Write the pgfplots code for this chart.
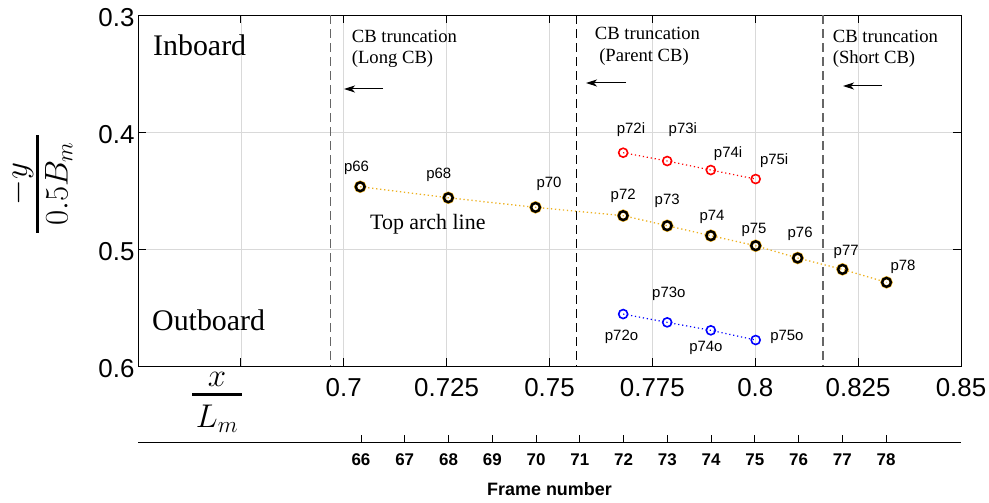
\documentclass[border=0pt]{standalone}
\usepackage{fix-cm}
\usepackage[no-math]{fontspec}
\setmainfont{Liberation Serif}
\newfontfamily\arial{Liberation Sans}
\usepackage{pgfplots}
\usepackage{pgfplotstable}
\pgfplotsset{compat=1.18}
\usetikzlibrary{arrows.meta}
\definecolor{morange}{rgb}{0.929,0.694,0.125}
\definecolor{dgray}{gray}{0.4}

\pgfplotstableread{
x y
0.7040 0.4468
0.7254 0.4562
0.7466 0.4644
0.7679 0.4715
0.7786 0.4801
0.7892 0.4886
0.8001 0.4972
0.8103 0.5077
0.8212 0.5174
0.8319 0.5285
}\toparch
\pgfplotstableread{
x y
0.7679 0.4177
0.7786 0.4248
0.7892 0.4325
0.8001 0.4402
}\inboard
\pgfplotstableread{
x y
0.7679 0.5556
0.7786 0.5627
0.7892 0.5695
0.8001 0.5778
}\outboard

\tikzset{lbl/.style={font=\arial\fontsize{15}{15}\selectfont, inner sep=0pt}}

% hand-built fraction with a thick bar: #1 num, #2 den, #3 kern above bar, #4 kern below bar, #5 side padding
\newcommand{\myfrac}[5]{\vbox{\offinterlineskip\halign{\hfil\kern#5##\kern#5\hfil\cr $\displaystyle #1$\cr\noalign{\kern #3\hrule height 3.3bp\kern #4}$\displaystyle #2$\cr}}}

\begin{document}
\begin{tikzpicture}
\useasboundingbox (-138bp,-137bp) rectangle (851bp,366bp);
\begin{axis}[
  at={(0,0)}, anchor=south west,
  scale only axis, width=823bp, height=351bp,
  xmin=0.65, xmax=0.85, ymin=0.3, ymax=0.6,
  y dir=reverse,
  xtick={0.65,0.675,0.7,0.725,0.75,0.775,0.8,0.825,0.85},
  xticklabels={,,0.7,0.725,0.75,0.775,0.8,0.825,0.85},
  ytick={0.3,0.4,0.5,0.6},
  yticklabels={0.3,0.4,0.5,0.6},
  grid=major, major grid style={gray!30, line width=0.6bp},
  tick align=inside, major tick length=8bp, tick style={black, line width=0.8bp},
  axis line style={line width=0.9bp},
  ticklabel style={font=\arial\fontsize{26}{26}\selectfont},
  /pgf/number format/assume math mode=true,
  xticklabel style={yshift=-9bp},
  yticklabel style={yshift=-3bp},
  clip=false,
]
% truncation lines
\addplot[dgray, line width=1.1bp, dash pattern=on 9bp off 5bp] coordinates {(0.6968,0.3) (0.6968,0.6)};
\addplot[black, line width=1.1bp, dash pattern=on 9bp off 5bp] coordinates {(0.7566,0.3) (0.7566,0.6)};
\addplot[dgray, line width=1.8bp, dash pattern=on 9bp off 5bp] coordinates {(0.8165,0.3) (0.8165,0.6)};
% top arch line
\addplot[morange, line width=1.3bp, dash pattern=on 1.3bp off 2.7bp] table[x=x,y=y] {\toparch};
\addplot[only marks, mark=o, mark size=4.6bp, mark options={morange, line width=3.2bp, solid}] table[x=x,y=y] {\toparch};
\addplot[only marks, mark=o, mark size=4.4bp, mark options={black, line width=2.4bp, solid}] table[x=x,y=y] {\toparch};
% inboard / outboard
\addplot[red, line width=1.2bp, dash pattern=on 1.2bp off 2.8bp, mark=o, mark size=4.5bp, mark options={solid, line width=1.6bp}] table[x=x,y=y] {\inboard};
\addplot[blue, line width=1.2bp, dash pattern=on 1.2bp off 2.8bp, mark=o, mark size=4.5bp, mark options={solid, line width=1.6bp}] table[x=x,y=y] {\outboard};
% point labels
\node[lbl] at (axis cs:0.7031,0.4308) {p66};
\node[lbl] at (axis cs:0.7231,0.4368) {p68};
\node[lbl] at (axis cs:0.7499,0.4444) {p70};
\node[lbl] at (axis cs:0.7679,0.4544) {p72};
\node[lbl] at (axis cs:0.7786,0.4590) {p73};
\node[lbl] at (axis cs:0.7895,0.4726) {p74};
\node[lbl] at (axis cs:0.7997,0.4838) {p75};
\node[lbl] at (axis cs:0.8109,0.4872) {p76};
\node[lbl] at (axis cs:0.8221,0.5026) {p77};
\node[lbl] at (axis cs:0.8359,0.5151) {p78};
\node[lbl] at (axis cs:0.7698,0.3977) {p72i};
\node[lbl] at (axis cs:0.7824,0.3983) {p73i};
\node[lbl] at (axis cs:0.7934,0.4188) {p74i};
\node[lbl] at (axis cs:0.8046,0.4248) {p75i};
\node[lbl] at (axis cs:0.7675,0.5750) {p72o};
\node[lbl] at (axis cs:0.7790,0.5385) {p73o};
\node[lbl] at (axis cs:0.7880,0.5846) {p74o};
\node[lbl] at (axis cs:0.8077,0.5752) {p75o};
\end{axis}

% frame number axis
\begin{axis}[
  at={(0,-76bp)}, anchor=south west,
  scale only axis, width=823bp, height=20bp,
  xmin=60.903, xmax=79.714, ymin=0, ymax=1,
  axis x line=bottom, axis y line=none,
  axis line style={-, line width=1bp},
  xtick={66,67,68,69,70,71,72,73,74,75,76,77,78},
  xticklabels={66,67,68,69,70,71,72,73,74,75,76,77,78},
  major tick length=7bp, tick style={black, line width=0.8bp},
  tick align=inside,
  xticklabel style={font=\arial\bfseries\fontsize{17}{17}\selectfont, yshift=-8bp},
  xlabel={\arial\bfseries\fontsize{18}{18}\selectfont Frame number},
  xlabel style={at={(axis description cs:0.5,0)}, anchor=center, yshift=-47bp},
]
\addplot[draw=none] coordinates {(66,0.5)};
\end{axis}

% annotations
\node[anchor=base west, font=\fontsize{30}{30}\selectfont, inner sep=0pt] at (15bp,310bp) {Inboard};
\node[anchor=base west, font=\fontsize{30}{30}\selectfont, inner sep=0pt] at (14bp,36bp) {Outboard};
\node[anchor=base west, font=\fontsize{22}{22}\selectfont, inner sep=0pt] at (232bp,136.7bp) {Top arch line};
\begin{scope}[every node/.style={font=\fontsize{18.7}{18.7}\selectfont, inner sep=0pt}]
\node[anchor=base west] at (213.7bp,323.7bp) {CB truncation};
\node[anchor=base west] at (213.7bp,302bp) {(Long CB)};
\node[anchor=base] at (509.5bp,326bp) {CB truncation};
\node[anchor=base] at (506bp,304bp) {(Parent CB)};
\node[anchor=base west] at (694.7bp,323.7bp) {CB truncation};
\node[anchor=base west] at (694.7bp,302bp) {(Short CB)};
\end{scope}
\draw[line width=1bp, -{Stealth[length=11bp, width=7bp, inset=3bp]}] (245bp,277bp) -- (206bp,277bp);
\draw[line width=1bp, -{Stealth[length=11bp, width=7bp, inset=3bp]}] (488bp,283bp) -- (448bp,283bp);
\draw[line width=1bp, -{Stealth[length=11bp, width=7bp, inset=3bp]}] (744bp,280bp) -- (705bp,280bp);

\node[rotate=90, anchor=north, inner sep=0pt, font=\fontsize{33}{33}\selectfont] at (-130.5bp,182bp) {\myfrac{-y}{0.5B_m}{2.5bp}{6bp}{7bp}};
\node[anchor=north, inner sep=0pt, font=\fontsize{33}{33}\selectfont] at (79bp,-5.7bp) {\myfrac{x}{L_m}{6.7bp}{8.7bp}{3.5bp}};
\end{tikzpicture}
\end{document}
